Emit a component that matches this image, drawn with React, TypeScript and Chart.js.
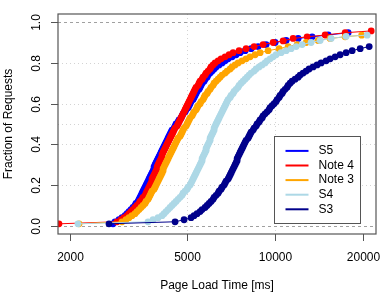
import React, { useEffect, useRef } from "react";
import { Chart, registerables } from "chart.js";

Chart.register(...registerables);

const seriesLabels = ["S5", "Note 4", "Note 3", "S4", "S3"];
const seriesColors = ["#0000FF", "#FF0000", "#FFA500", "#ADD8E6", "#00008B"];

// fraction of requests (percentile levels) shared by the main part of every series
const pctLevels = [
  0.01, 0.02, 0.03, 0.04, 0.05, 0.06, 0.07, 0.08, 0.09, 0.10,
  0.11, 0.12, 0.13, 0.14, 0.15, 0.16, 0.17, 0.18, 0.19, 0.20,
  0.21, 0.22, 0.23, 0.24, 0.25, 0.26, 0.27, 0.28, 0.29, 0.30,
  0.31, 0.32, 0.33, 0.34, 0.35, 0.36, 0.37, 0.38, 0.39, 0.40,
  0.41, 0.42, 0.43, 0.44, 0.45, 0.46, 0.47, 0.48, 0.49, 0.50,
  0.51, 0.52, 0.53, 0.54, 0.55, 0.56, 0.57, 0.58, 0.59, 0.60,
  0.61, 0.62, 0.63, 0.64, 0.65, 0.66, 0.67, 0.68, 0.69, 0.70,
  0.71, 0.72, 0.73, 0.74, 0.75, 0.76, 0.77, 0.78, 0.79, 0.80,
  0.81, 0.82, 0.83, 0.84, 0.85, 0.86, 0.87, 0.88, 0.89, 0.90,
];

// page load time [ms] at each level
const s5Main = [
  2803, 2848, 2939, 3009, 3081, 3130, 3179, 3229, 3280, 3332,
  3359, 3413, 3440, 3467, 3495, 3522, 3550, 3578, 3606, 3635,
  3663, 3692, 3721, 3751, 3780, 3810, 3840, 3870, 3870, 3901,
  3932, 3963, 3994, 4025, 4057, 4089, 4121, 4154, 4186, 4219,
  4253, 4286, 4320, 4354, 4389, 4423, 4458, 4529, 4565, 4600,
  4673, 4710, 4785, 4823, 4861, 4938, 4977, 5055, 5095, 5136,
  5176, 5258, 5299, 5341, 5383, 5426, 5512, 5556, 5600, 5644,
  5733, 5778, 5870, 5916, 6010, 6105, 6202, 6300, 6450, 6604,
  6762, 6923, 7144, 7372, 7607, 7912, 8294, 8762, 9330, 10014,
];
const s5TailX = [10919, 12000, 13395, 15190, 17775];
const s5TailY = [0.91, 0.92, 0.928, 0.937, 0.948];

const note4Main = [
  1834, 2893, 2985, 3056, 3130, 3179, 3229, 3280, 3332, 3385,
  3440, 3467, 3522, 3550, 3606, 3635, 3663, 3692, 3721, 3751,
  3780, 3810, 3810, 3840, 3870, 3901, 3932, 3963, 3963, 3994,
  4025, 4057, 4089, 4121, 4121, 4154, 4186, 4219, 4253, 4286,
  4320, 4354, 4389, 4423, 4458, 4494, 4529, 4565, 4637, 4673,
  4710, 4747, 4785, 4823, 4861, 4899, 4938, 4977, 5016, 5055,
  5095, 5136, 5176, 5217, 5258, 5299, 5341, 5383, 5469, 5512,
  5556, 5644, 5688, 5778, 5824, 5916, 6010, 6057, 6153, 6251,
  6400, 6552, 6762, 6978, 7200, 7548, 7974, 8491, 9113, 9858,
];
const note4TailX = [10664, 11537, 12880, 14836, 17360, 21300];
const note4TailY = [0.908, 0.92, 0.928, 0.937, 0.948, 0.957];

const note3Main = [
  2147, 3009, 3105, 3179, 3254, 3332, 3385, 3440, 3495, 3550,
  3606, 3635, 3692, 3721, 3751, 3780, 3810, 3870, 3901, 3932,
  3963, 3994, 4025, 4057, 4089, 4121, 4154, 4154, 4186, 4219,
  4253, 4286, 4320, 4354, 4389, 4423, 4458, 4494, 4529, 4565,
  4600, 4637, 4673, 4747, 4785, 4823, 4861, 4899, 4977, 5016,
  5055, 5095, 5136, 5217, 5258, 5299, 5383, 5426, 5469, 5556,
  5600, 5688, 5733, 5778, 5870, 5916, 6010, 6057, 6153, 6202,
  6300, 6400, 6501, 6604, 6762, 6869, 7033, 7144, 7314, 7489,
  7728, 7974, 8229, 8558, 8901, 9478, 10334, 11092, 11906, 12785,
];
const note3TailX = [14040, 15431, 17360, 19766];
const note3TailY = [0.91, 0.92, 0.928, 0.936];

const s4Main = [
  2129, 3692, 3840, 3994, 4121, 4186, 4253, 4320, 4389, 4458,
  4529, 4600, 4673, 4747, 4823, 4861, 4938, 5016, 5055, 5136,
  5176, 5217, 5258, 5299, 5341, 5383, 5426, 5469, 5512, 5556,
  5600, 5644, 5644, 5688, 5733, 5778, 5824, 5824, 5870, 5916,
  5963, 6010, 6010, 6057, 6105, 6153, 6202, 6202, 6251, 6300,
  6350, 6400, 6450, 6501, 6552, 6604, 6656, 6709, 6762, 6815,
  6869, 6923, 7033, 7088, 7200, 7257, 7372, 7489, 7548, 7667,
  7788, 7912, 8037, 8164, 8294, 8491, 8626, 8831, 9042, 9257,
  9404, 9628, 9858, 10093, 10498, 10919, 11356, 11813, 12383, 13289,
];
const s4TailX = [14264, 15553, 17497, 20639];
const s4TailY = [0.91, 0.92, 0.93, 0.936];

const s3Main = [
  2717, 4565, 4899, 5176, 5299, 5426, 5556, 5644, 5778, 5870,
  5963, 6057, 6153, 6202, 6300, 6400, 6450, 6552, 6604, 6709,
  6762, 6815, 6923, 6978, 7033, 7088, 7144, 7200, 7257, 7314,
  7372, 7430, 7430, 7489, 7548, 7607, 7667, 7728, 7788, 7850,
  7912, 7974, 8100, 8164, 8229, 8294, 8425, 8491, 8626, 8694,
  8831, 8901, 9042, 9113, 9257, 9404, 9553, 9628, 9781, 9936,
  10093, 10173, 10334, 10416, 10581, 10664, 10833, 11005, 11092, 11267,
  11446, 11720, 12000, 12190, 12480, 12779, 13082, 13500, 13930, 14377,
  14953, 15431, 16050, 16692, 17497, 18344, 19534, 20965,
];
const s3TailX: number[] = [];
const s3TailY: number[] = [];

const seriesMain = [s5Main, note4Main, note3Main, s4Main, s3Main];
const seriesTailX = [s5TailX, note4TailX, note3TailX, s4TailX, s3TailX];
const seriesTailY = [s5TailY, note4TailY, note3TailY, s4TailY, s3TailY];

const xTicks = [2000, 5000, 10000, 20000];
const xTickLabels = ["2000", "5000", "10000", "20000"];
const yTicks = [0, 0.2, 0.4, 0.6, 0.8, 1.0];
const yTickLabels = ["0.0", "0.2", "0.4", "0.6", "0.8", "1.0"];
const hGridDotted = [0.2, 0.4, 0.5, 0.6, 0.8];
const vGridDotted = [5000, 10000];
const hGridDashed = [0, 1];

const xTitle = "Page Load Time [ms]";
const yTitle = "Fraction of Requests";
const FONT = '12px "Liberation Sans", Arial, sans-serif';

const overlay = {
  id: "rOverlay",
  beforeDatasetsDraw(chart: any) {
    const { ctx, chartArea: a, scales } = chart;
    const xs = scales.x;
    const ys = scales.y;
    ctx.save();
    ctx.lineWidth = 1;
    ctx.strokeStyle = "#D3D3D3";
    ctx.setLineDash([1, 3]);
    for (const v of hGridDotted) {
      const y = Math.round(ys.getPixelForValue(v)) + 0.5;
      ctx.beginPath();
      ctx.moveTo(a.left, y);
      ctx.lineTo(a.right, y);
      ctx.stroke();
    }
    for (const v of vGridDotted) {
      const x = Math.round(xs.getPixelForValue(v)) + 0.5;
      ctx.beginPath();
      ctx.moveTo(x, a.top);
      ctx.lineTo(x, a.bottom);
      ctx.stroke();
    }
    ctx.strokeStyle = "#A0A0A0";
    ctx.setLineDash([3, 3]);
    for (const v of hGridDashed) {
      const y = Math.round(ys.getPixelForValue(v)) + 0.5;
      ctx.beginPath();
      ctx.moveTo(a.left, y);
      ctx.lineTo(a.right, y);
      ctx.stroke();
    }
    ctx.restore();
  },
  afterDatasetsDraw(chart: any) {
    const { ctx, chartArea: a, scales } = chart;
    const xs = scales.x;
    const ys = scales.y;
    ctx.save();
    ctx.setLineDash([]);
    ctx.strokeStyle = "#555";
    ctx.lineWidth = 1.2;
    ctx.strokeRect(a.left, a.top, a.right - a.left, a.bottom - a.top);
    ctx.lineWidth = 1;
    ctx.fillStyle = "#000";
    ctx.font = FONT;
    xTicks.forEach((v, i) => {
      const x = Math.round(xs.getPixelForValue(v)) + 0.5;
      ctx.beginPath();
      ctx.moveTo(x, a.bottom);
      ctx.lineTo(x, a.bottom + 7);
      ctx.stroke();
      ctx.textAlign = "center";
      ctx.textBaseline = "middle";
      ctx.fillText(xTickLabels[i], x, a.bottom + 23.5);
    });
    yTicks.forEach((v, i) => {
      const y = Math.round(ys.getPixelForValue(v)) + 0.5;
      ctx.beginPath();
      ctx.moveTo(a.left, y);
      ctx.lineTo(a.left - 7, y);
      ctx.stroke();
      ctx.save();
      ctx.translate(a.left - 21.5, y);
      ctx.rotate(-Math.PI / 2);
      ctx.textAlign = "center";
      ctx.textBaseline = "middle";
      ctx.fillText(yTickLabels[i], 0, 0);
      ctx.restore();
    });
    ctx.textAlign = "center";
    ctx.textBaseline = "middle";
    ctx.fillText(xTitle, (a.left + a.right) / 2, a.bottom + 51.5);
    ctx.save();
    ctx.translate(9, (a.top + a.bottom) / 2);
    ctx.rotate(-Math.PI / 2);
    ctx.fillText(yTitle, 0, 0);
    ctx.restore();
    // legend
    const lw = 86;
    const lh = 87;
    const lx = Math.round(a.right - 16 - lw) + 0.5;
    const ly = Math.round(a.bottom - 11 - lh) + 0.5;
    ctx.fillStyle = "#FFFFFF";
    ctx.fillRect(lx, ly, lw, lh);
    ctx.strokeStyle = "#555";
    ctx.lineWidth = 1;
    ctx.strokeRect(lx, ly, lw, lh);
    seriesLabels.forEach((lab, i) => {
      const y = ly + 14.4 + i * 14.6;
      ctx.strokeStyle = seriesColors[i];
      ctx.lineWidth = 2;
      ctx.beginPath();
      ctx.moveTo(lx + 11, y);
      ctx.lineTo(lx + 34, y);
      ctx.stroke();
      ctx.fillStyle = "#000";
      ctx.textAlign = "left";
      ctx.textBaseline = "middle";
      ctx.fillText(lab, lx + 44, y);
    });
    ctx.restore();
  },
};

export default function App() {
  const ref = useRef<HTMLCanvasElement | null>(null);
  useEffect(() => {
    document.body.style.margin = "0";
    const canvas = ref.current;
    if (!canvas) return;
    const datasets = seriesLabels.map((label, i) => {
      const main = seriesMain[i].map((x, j) => ({ x, y: pctLevels[j] }));
      const tail = seriesTailX[i].map((x, j) => ({ x, y: seriesTailY[i][j] }));
      return {
        label,
        data: main.concat(tail),
        borderColor: seriesColors[i],
        backgroundColor: seriesColors[i],
        pointBackgroundColor: seriesColors[i],
        pointBorderWidth: 0,
        pointRadius: 3.4,
        pointHoverRadius: 3.4,
        borderWidth: 1,
        showLine: true,
        order: seriesLabels.length - i,
      };
    });
    const chart = new Chart(canvas, {
      type: "scatter",
      data: { datasets },
      options: {
        animation: false,
        responsive: false,
        devicePixelRatio: 1,
        events: [],
        layout: { padding: { left: 58, right: 14, top: 14, bottom: 59 } },
        plugins: { legend: { display: false }, tooltip: { enabled: false } },
        scales: {
          x: { type: "logarithmic", min: 1820, max: 22120, display: false },
          y: { type: "linear", min: -0.04, max: 1.04, display: false },
        },
      },
      plugins: [overlay],
    });
    return () => chart.destroy();
  }, []);
  return (
    <div style={{ position: "absolute", left: 0, top: 0, width: 390, height: 293, background: "#fff" }}>
      <canvas ref={ref} width={390} height={293} style={{ display: "block" }} />
    </div>
  );
}
